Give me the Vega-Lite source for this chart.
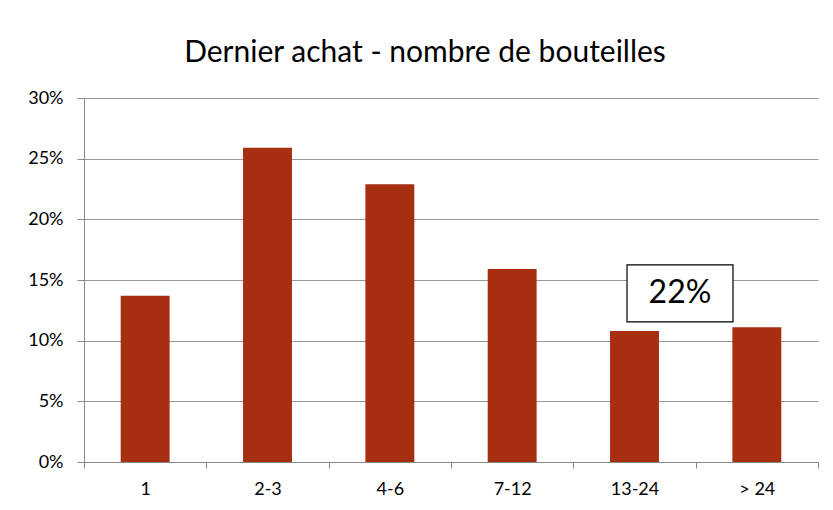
{
  "$schema": "https://vega.github.io/schema/vega-lite/v6.json",
  "width": 734,
  "height": 364,
  "autosize": {"type": "none"},
  "padding": {"left": 84, "top": 98, "right": 15, "bottom": 48},
  "background": "white",
  "config": {
    "font": "Lato",
    "view": {"stroke": null}
  },
  "title": {
    "text": "Dernier achat - nombre de bouteilles",
    "fontSize": 30,
    "fontWeight": "normal",
    "color": "#000000",
    "font": "Lato",
    "anchor": "middle",
    "dx": -26,
    "offset": 21
  },
  "datasets": {
    "bars": [
      {"cat": "1", "pct": 0.137},
      {"cat": "2-3", "pct": 0.259},
      {"cat": "4-6", "pct": 0.229},
      {"cat": "7-12", "pct": 0.159},
      {"cat": "13-24", "pct": 0.108},
      {"cat": "> 24", "pct": 0.111}
    ],
    "note": [
      {"cat": "13-24", "pct": 0.139, "label": "22%"}
    ]
  },
  "layer": [
    {
      "data": {"name": "bars"},
      "mark": {"type": "bar", "color": "#A62F12", "width": {"band": 0.4}},
      "encoding": {
        "x": {
          "field": "cat",
          "type": "nominal",
          "sort": ["1", "2-3", "4-6", "7-12", "13-24", "> 24"],
          "scale": {"domain": ["1", "2-3", "4-6", "7-12", "13-24", "> 24"], "paddingInner": 0, "paddingOuter": 0},
          "axis": {
            "title": null,
            "labelAngle": 0,
            "labelFontSize": 18,
            "labelColor": "#000000",
            "labelFont": "Lato",
            "labelPadding": 12,
            "tickBand": "extent",
            "tickSize": 6,
            "tickColor": "#888888",
            "domainColor": "#888888",
            "grid": false
          }
        },
        "y": {
          "field": "pct",
          "type": "quantitative",
          "scale": {"domain": [0, 0.3], "nice": false},
          "axis": {
            "title": null,
            "format": ".0%",
            "values": [0, 0.05, 0.1, 0.15, 0.2, 0.25, 0.3],
            "labelFontSize": 18,
            "labelColor": "#000000",
            "labelFont": "Lato",
            "labelPadding": 14,
            "tickSize": 7,
            "tickColor": "#888888",
            "domainColor": "#888888",
            "gridColor": "#999999",
            "gridWidth": 1.2
          }
        }
      }
    },
    {
      "data": {"name": "note"},
      "mark": {
        "type": "point",
        "shape": "M-1,-0.538L1,-0.538L1,0.538L-1,0.538Z",
        "size": 11236,
        "filled": true,
        "fill": "white",
        "stroke": "black",
        "strokeWidth": 1.2,
        "opacity": 1
      },
      "encoding": {
        "x": {"field": "cat", "type": "nominal", "bandPosition": 0.872, "sort": ["1", "2-3", "4-6", "7-12", "13-24", "> 24"]},
        "y": {"field": "pct", "type": "quantitative"}
      }
    },
    {
      "data": {"name": "note"},
      "mark": {"type": "text", "fontSize": 32, "font": "Lato", "color": "black", "baseline": "middle", "align": "center"},
      "encoding": {
        "x": {"field": "cat", "type": "nominal", "bandPosition": 0.872, "sort": ["1", "2-3", "4-6", "7-12", "13-24", "> 24"]},
        "y": {"field": "pct", "type": "quantitative"},
        "text": {"field": "label"}
      }
    }
  ]
}
